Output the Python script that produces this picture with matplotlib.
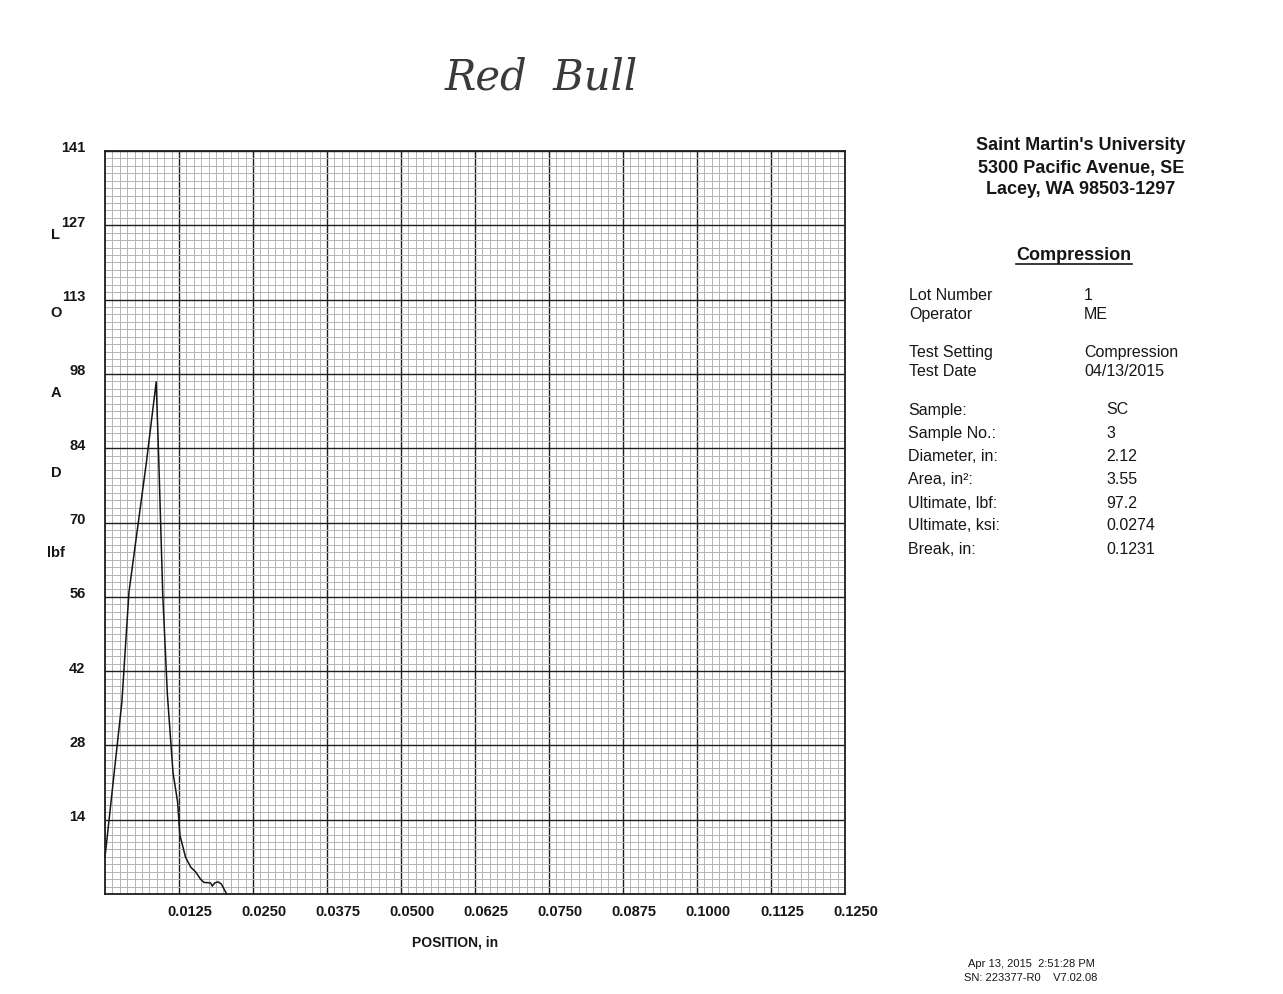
import numpy as np
import matplotlib
matplotlib.use("Agg")
import matplotlib.pyplot as plt
from matplotlib.transforms import ScaledTranslation

# ---- data ----
position_in = [0.0, 0.00285, 0.00405, 0.0070, 0.00865, 0.00909, 0.00976, 0.01054,
               0.01149, 0.01226, 0.01265, 0.0136, 0.01448, 0.0153, 0.01615, 0.01672,
               0.01784, 0.01813, 0.01852, 0.0191, 0.01965, 0.02055]
load_lbf = [7.0, 36.4, 57.3, 82.0, 97.2, 82.0, 56.7, 37.8,
            23.0, 17.5, 11.2, 7.0, 5.1, 4.2, 2.8, 2.2,
            2.1, 1.5, 2.1, 2.3, 1.9, 0.0]

x_ticks = [0.0125, 0.0250, 0.0375, 0.0500, 0.0625, 0.0750, 0.0875, 0.1000, 0.1125, 0.1250]
x_tick_labels = ["0.0125", "0.0250", "0.0375", "0.0500", "0.0625", "0.0750",
                 "0.0875", "0.1000", "0.1125", "0.1250"]
y_ticks = [14.1, 28.2, 42.3, 56.4, 70.5, 84.6, 98.7, 112.8, 126.9, 141.0]
y_tick_labels = ["14", "28", "42", "56", "70", "84", "98", "113", "127", "141"]

info_labels = ["Lot Number", "Operator", "Test Setting", "Test Date"]
info_values = ["1", "ME", "Compression", "04/13/2015"]
sample_labels = ["Sample:", "Sample No.:", "Diameter, in:", "Area, in\u00b2:",
                 "Ultimate, lbf:", "Ultimate, ksi:", "Break, in:"]
sample_values = ["SC", "3", "2.12", "3.55", "97.2", "0.0274", "0.1231"]

header_lines = ["Saint Martin's University", "5300 Pacific Avenue, SE", "Lacey, WA 98503-1297"]

plt.rcParams['font.family'] = ['Liberation Sans', 'DejaVu Sans']
TXT = '#161616'

W, H = 1283, 995
fig = plt.figure(figsize=(W / 100, H / 100), dpi=100)
fig.patch.set_facecolor('white')

def fx(px):
    return px / W

def fy(py):
    return 1 - py / H

ax_l, ax_r, ax_t, ax_b = 105, 845, 152, 895
ax = fig.add_axes([fx(ax_l), fy(ax_b), (ax_r - ax_l) / W, (ax_b - ax_t) / H])
ax.set_xlim(0, 0.125)
ax.set_ylim(0, 141)

# graph-paper grid
ax.set_xticks(np.arange(0, 0.12501, 0.00125), minor=True)
ax.set_yticks(np.arange(0, 141.01, 1.41), minor=True)
ax.set_xticks(x_ticks)
ax.set_yticks(y_ticks)
ax.grid(which='minor', color='#b4b4b4', linewidth=0.7)
ax.grid(which='major', color='#1e1e1e', linewidth=1.0)
ax.set_axisbelow(True)
for s in ax.spines.values():
    s.set_color('#1e1e1e')
    s.set_linewidth(1.3)

ax.set_xticklabels(x_tick_labels, fontsize=10.5, fontweight='bold', color=TXT)
ax.set_yticklabels(y_tick_labels, fontsize=10.5, fontweight='bold', color=TXT)
ax.tick_params(which='both', length=0)
ax.tick_params(axis='x', pad=7)
ax.tick_params(axis='y', pad=14)
for lab in ax.get_xticklabels():
    lab.set_transform(lab.get_transform() + ScaledTranslation(0.11, 0, fig.dpi_scale_trans))
for lab in ax.get_yticklabels():
    lab.set_transform(lab.get_transform() + ScaledTranslation(0, 0.05, fig.dpi_scale_trans))

ax.plot(position_in, load_lbf, color='#151515', linewidth=1.1, clip_on=False)

# axis titles
fig.text(fx(455), fy(943), "POSITION, in", ha='center', va='center',
         fontsize=10, fontweight='bold', color=TXT)
for letter, py in zip(["L", "O", "A", "D", "lbf"], [235, 313, 393, 473, 553]):
    fig.text(fx(56), fy(py), letter, ha='center', va='center',
             fontsize=10.5, fontweight='bold', color=TXT)

# handwritten note
fig.text(fx(541), fy(78), "Red  Bull", ha='center', va='center', fontsize=30,
         family='DejaVu Serif', style='italic', color='#3a3a3a')

# right panel
for line, py in zip(header_lines, [146, 168, 190]):
    fig.text(fx(1081), fy(py), line, ha='center', va='center',
             fontsize=13, fontweight='bold', color=TXT)
fig.text(fx(1074), fy(255), "Compression", ha='center', va='center',
         fontsize=13, fontweight='bold', color=TXT)
fig.add_artist(plt.Line2D([fx(1016), fx(1132)], [fy(265), fy(265)],
                          color=TXT, linewidth=1.2))

for lab, val, py in zip(info_labels, info_values, [296, 315, 352, 371]):
    fig.text(fx(909), fy(py), lab, ha='left', va='center', fontsize=11.5, color=TXT)
    fig.text(fx(1084), fy(py), val, ha='left', va='center', fontsize=11.5, color=TXT)
for lab, val, py in zip(sample_labels, sample_values, [410, 434, 457, 480, 503, 526, 549]):
    fig.text(fx(908), fy(py), lab, ha='left', va='center', fontsize=11.5, color=TXT)
    fig.text(fx(1106), fy(py), val, ha='left', va='center', fontsize=11.5, color=TXT)

fig.text(fx(1031), fy(964), "Apr 13, 2015  2:51:28 PM", ha='center', va='center',
         fontsize=8, color=TXT)
fig.text(fx(1031), fy(978), "SN: 223377-R0    V7.02.08", ha='center', va='center',
         fontsize=8, color=TXT)

fig.savefig("out.png", dpi=100, facecolor='white')
